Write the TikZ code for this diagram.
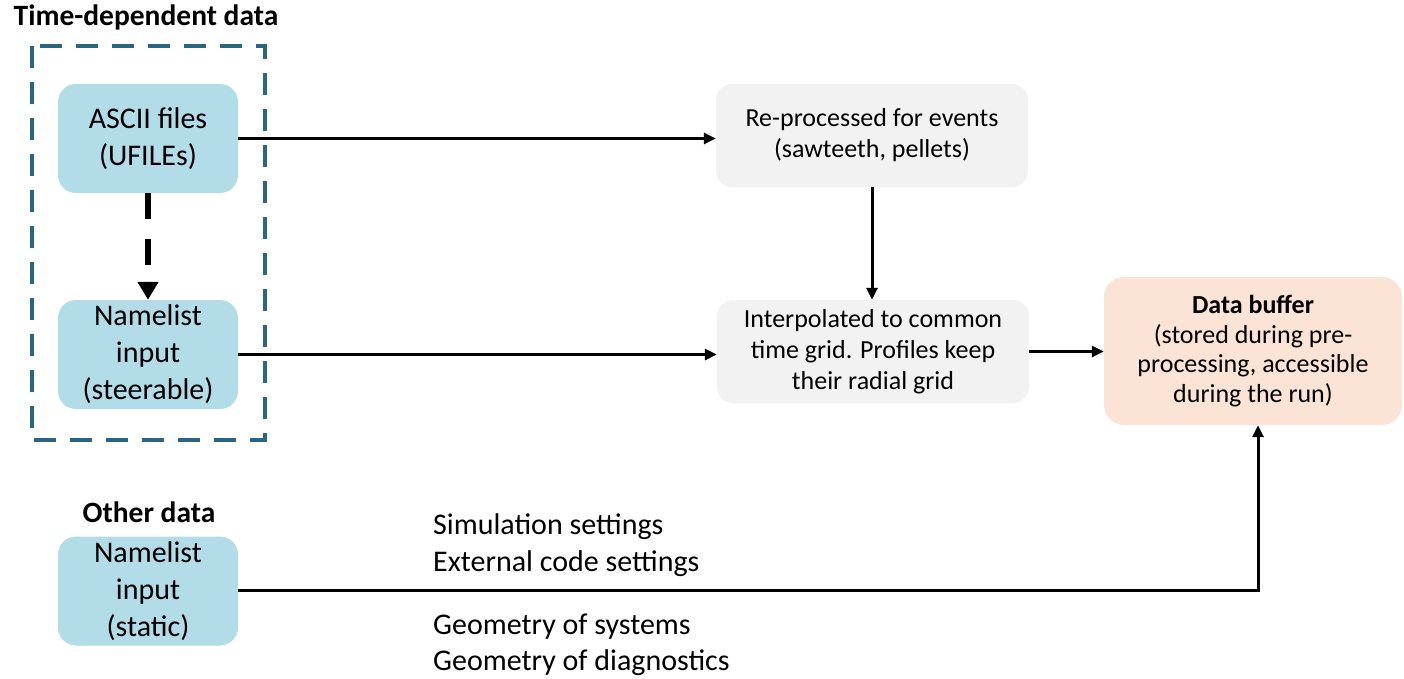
\documentclass[tikz,border=0pt]{standalone}
\usepackage{fontspec}
\setmainfont{Carlito}
\usetikzlibrary{arrows.meta}
\definecolor{boxblue}{HTML}{B2DDE8}
\definecolor{boxgray}{HTML}{F2F2F2}
\definecolor{boxpeach}{HTML}{FBE4D5}
\definecolor{frameteal}{HTML}{2A6680}
\tikzset{
  inbox/.style={fill=boxblue, rounded corners=18pt, align=center,
    minimum width=180pt, minimum height=109pt, inner sep=0pt,
    font=\fontsize{30}{37}\selectfont},
  procbox/.style={fill=boxgray, rounded corners=16pt, align=center,
    minimum width=312pt, minimum height=103pt, inner sep=0pt,
    font=\fontsize{26}{31}\selectfont},
  bufbox/.style={fill=boxpeach, rounded corners=20pt, align=center,
    minimum width=298pt, minimum height=148pt, inner sep=0pt,
    font=\fontsize{26}{29.5}\selectfont},
  flow/.style={line width=3pt, -{Triangle[length=12pt,width=11pt]}},
  heading/.style={font=\fontsize{29.5}{34}\selectfont\bfseries},
  note/.style={font=\fontsize{30}{34}\selectfont, anchor=west, inner sep=0pt}
}
\begin{document}
\begin{tikzpicture}[x=1pt,y=-1pt]
\useasboundingbox (0,0) rectangle (1404,678);

% time-dependent group
\node[heading] (tdtitle) at (146,17) {Time-dependent data};
\draw[frameteal, line width=4pt, dash pattern=on 22pt off 14pt] (32,46) rectangle (265,440);

\node[inbox] (ascii) at (148,138.5) {ASCII files\\(UFILEs)};
\node[inbox] (steer) at (148,354.5) {Namelist\\input\\(steerable)};

% other data
\node[heading] (othertitle) at (149,512) {Other data};
\node[inbox] (static) at (148,591) {Namelist\\input\\(static)};

% processing stages
\node[procbox] (reproc) at (872,135.5) {Re-processed for events\\(sawteeth, pellets)};
\node[procbox] (interp) at (873,351.5) {Interpolated to common\\time grid. Profiles keep\\their radial grid};
\node[bufbox] (buffer) at (1253,351) {\textbf{Data buffer}\\(stored during pre-\\processing, accessible\\during the run)};

% connectors
\draw[line width=6pt, dash pattern=on 26pt off 20pt,
      -{Triangle[length=18pt,width=20pt]}] (ascii.south) -- (steer.north);
\draw[flow] (ascii.east) -- (reproc.west |- ascii.east);
\draw[flow] (reproc.south) -- (reproc.south |- interp.north);
\draw[flow] (steer.east) -- (interp.west |- steer.east);
\draw[flow] (interp.east) -- (buffer.west |- interp.east);
\coordinate (bend) at (1258,590);
\draw[flow] (static.east |- bend) -- (bend) -- (bend |- buffer.south);

% labels along the static-input line
\node[note] (sim) at (433,527) {Simulation settings};
\node[note] (ext) at (433,564) {External code settings};
\node[note] (geosys) at (433,627) {Geometry of systems};
\node[note] (geodiag) at (433,663) {Geometry of diagnostics};
\end{tikzpicture}
\end{document}
